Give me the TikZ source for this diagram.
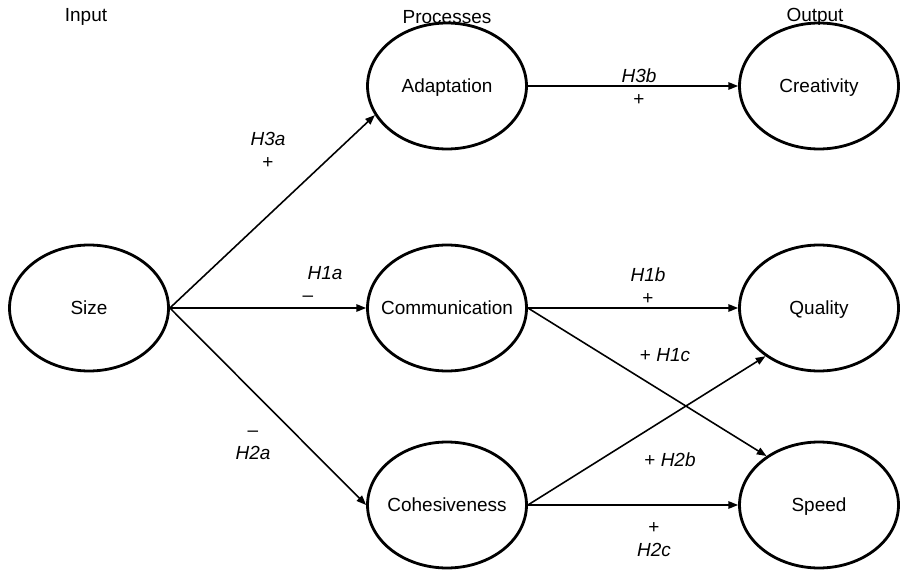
\documentclass[tikz,border=0pt]{standalone}
\usepackage{fontspec}
\setmainfont{Liberation Sans}
\usetikzlibrary{shapes.geometric,arrows.meta}

\newcommand{\ctext}[1]{\makebox[0pt]{\rule[-2.6pt]{0pt}{13pt}#1}}

\begin{document}
\begin{tikzpicture}[x=0.02cm, y=-0.02cm,
  construct/.style={draw, ellipse, line width=1.6pt, minimum width=3.18cm,
    minimum height=2.52cm, inner sep=0pt, font=\fontsize{10.8}{13}\selectfont},
  link/.style={-{Triangle[length=5.5pt,width=4.2pt]}, line width=0.9pt},
  hyp/.style={align=center, inner sep=0pt, font=\fontsize{10.8}{13}\selectfont},
  head/.style={font=\fontsize{10.8}{13}\selectfont}]
  \useasboundingbox (0,0) rectangle (906,574);

  % Column headings
  \node[head] (input) at (86,17) {Input};
  \node[head] (proc) at (447,17) {Processes};
  \node[head] (output) at (815,17) {Output};

  % Input
  \node[construct] (size) at (89,308) {\ctext{Size}};

  % Processes
  \node[construct] (adapt) at (447,86) {\ctext{Adaptation}};
  \node[construct] (comm) at (447,308) {\ctext{Communication}};
  \node[construct] (coh) at (447,505) {\ctext{Cohesiveness}};

  % Outputs
  \node[construct] (creat) at (819,86) {\ctext{Creativity}};
  \node[construct] (qual) at (819,308) {\ctext{Quality}};
  \node[construct] (speed) at (819,505) {\ctext{Speed}};

  % Paths
  \draw[link] (size.east) -- (adapt.202);
  \draw[link] (size.east) -- (comm.west);
  \draw[link] (size.east) -- (coh.west);
  \draw[link] (adapt.east) -- (creat.west);
  \draw[link] (comm.east) -- (qual.west);
  \draw[link] (comm.east) -- (speed.137);
  \draw[link] (coh.east) -- (qual.222);
  \draw[link] (coh.east) -- (speed.west);

  % Hypotheses
  \node[hyp] (h3a) at (268,150) {\textit{H3a}\\+};
  \node[hyp] (h1a) at (325,284) {\textit{H1a}\\--\hspace*{1.8em}};
  \node[hyp] (h2a) at (253,445) {--\\\textit{H2a}};
  \node[hyp] (h3b) at (639,87) {\textit{H3b}\\+};
  \node[hyp] (h1b) at (648,286) {\textit{H1b}\\+};
  \node[hyp] (h1c) at (665,355) {+ \textit{H1c}};
  \node[hyp] (h2b) at (670,460) {+ \textit{H2b}};
  \node[hyp] (h2c) at (654,540) {+\\\textit{H2c}};
\end{tikzpicture}
\end{document}
